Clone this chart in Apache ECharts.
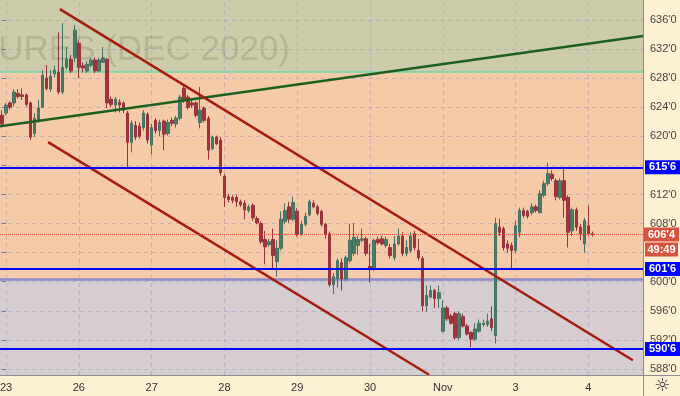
<!DOCTYPE html>
<html>
<head>
<meta charset="utf-8">
<script src="https://cdn.jsdelivr.net/npm/echarts@6/dist/echarts.min.js"></script>
<style>
html,body{margin:0;padding:0;background:#fdf1d3;}
#c{width:680px;height:396px;}
</style>
</head>
<body>
<div id="c"></div>
<script>
// ---- data ----
const dayLabels = ['23','26','27','28','29','30','Nov','3','4'];
const dayStarts = [1,19,37,55,73,91,109,127,145];
const barCount = 159;

const opens = [622.9,623.2,624.6,624.6,625.9,625.7,625.7,624.6,620.4,622.2,
624.0,628.0,626.5,628.6,628.8,626.1,629.5,630.6,630.8,632.8,
629.7,629.0,629.8,630.5,629.0,630.2,630.6,625.1,624.3,624.7,
624.6,623.2,619.2,621.5,621.4,621.2,623.0,618.8,622.2,620.8,
622.1,620.4,622.2,621.7,622.5,626.6,625.4,624.6,624.6,621.9,
623.9,622.5,618.3,619.9,619.5,614.5,611.7,611.6,611.6,611.0,
610.8,609.8,610.5,608.7,608.0,605.8,605.1,605.8,602.8,604.6,
608.3,610.3,608.6,609.7,606.6,607.9,609.2,610.8,610.3,609.7,
607.9,606.6,599.6,600.4,602.6,600.4,602.9,603.9,605.0,605.7,
605.9,602.1,601.8,605.8,605.9,605.0,604.7,603.3,605.2,606.3,
603.9,604.3,606.6,604.3,603.2,596.7,597.9,598.8,597.7,593.2,
596.4,595.3,595.6,592.3,595.2,593.9,593.0,592.1,593.2,594.1,
594.1,594.9,592.6,607.5,607.3,605.2,605.0,604.3,606.8,609.8,
609.7,609.5,610.3,609.5,611.9,613.5,614.8,613.9,611.6,613.9,
611.6,607.0,609.9,607.5,605.2,607.7,606.6];
const closes = [621.7,624.3,624.0,626.1,625.5,625.5,624.4,619.9,622.5,623.9,
628.4,626.6,628.3,629.1,626.1,629.5,630.6,629.0,634.6,629.5,
629.4,629.9,630.5,629.0,630.5,630.8,624.6,624.4,625.1,624.3,
623.6,619.2,621.8,619.9,620.0,623.2,619.5,621.2,620.8,621.9,
620.3,621.9,621.8,622.5,625.4,625.0,624.0,624.3,622.9,623.6,
622.2,618.1,619.9,619.0,615.0,611.6,611.3,611.2,611.0,610.6,
609.9,610.3,608.8,608.1,605.5,604.8,605.5,603.6,604.6,608.6,
609.8,608.6,610.9,606.5,607.9,609.0,611.0,610.3,609.4,607.9,
606.5,599.6,600.7,602.9,600.4,603.3,605.7,606.1,605.8,605.9,
603.9,601.8,605.7,605.4,605.2,605.8,603.6,605.2,606.3,603.9,
604.7,606.3,604.7,603.3,596.7,598.1,598.8,597.7,598.5,596.4,
594.9,594.3,592.3,595.6,593.9,592.8,592.1,593.5,594.3,594.3,
594.6,593.7,608.0,606.8,604.7,604.6,604.3,607.7,609.8,609.1,
609.0,610.3,609.8,612.1,613.5,614.9,614.2,611.7,613.9,611.2,
606.8,609.9,607.5,606.6,608.4,606.6,606.5];
const lows = [621.4,622.9,623.7,624.1,625.2,625.0,624.1,619.5,619.9,621.9,
623.9,626.3,626.1,628.1,625.8,625.8,629.2,628.7,630.2,628.0,
628.8,628.7,629.5,628.7,628.8,630.1,623.9,624.0,623.3,623.3,
623.2,615.7,617.8,619.5,619.7,620.8,619.0,617.5,620.4,620.0,
618.1,620.1,621.4,621.2,622.2,624.6,623.7,623.9,622.6,621.1,
621.9,616.8,618.1,618.8,614.6,610.3,610.9,610.8,610.3,610.3,
608.6,609.5,608.4,607.9,605.2,602.4,604.8,601.8,600.7,604.3,
607.9,608.1,608.3,606.2,606.3,607.6,609.0,610.1,609.1,607.6,
605.9,599.3,598.3,599.2,598.8,600.1,602.6,603.5,603.7,605.4,
603.5,599.9,601.5,605.1,605.0,604.7,603.2,602.9,605.0,603.5,
603.5,604.0,604.3,602.9,595.9,595.9,597.7,596.4,596.4,593.0,
594.6,594.1,592.0,592.0,593.7,592.6,591.0,591.9,593.0,593.8,
593.8,593.2,591.5,606.3,604.3,604.0,601.8,604.0,606.1,608.8,
608.7,609.2,609.5,609.4,611.6,613.2,613.9,611.2,611.3,608.8,
604.7,606.3,607.0,605.7,604.0,606.3,606.2];
const highs = [623.6,624.6,624.8,626.5,626.5,626.6,625.9,624.8,623.2,625.0,
629.1,629.8,629.1,629.7,634.3,635.6,632.3,631.2,635.3,633.2,
630.2,630.3,630.8,630.9,630.8,632.3,630.8,625.5,625.4,625.1,
624.8,623.5,622.2,622.1,621.9,623.6,623.3,621.7,622.5,622.3,
622.3,622.3,622.6,622.8,625.7,626.9,625.7,625.0,624.8,626.8,
624.1,622.8,620.1,620.1,619.9,614.8,612.1,611.9,612.0,611.3,
611.2,610.6,610.8,609.0,608.3,607.0,605.9,607.3,605.7,609.7,
610.8,611.0,611.7,610.1,608.4,609.5,611.3,611.2,610.6,609.9,
608.1,606.9,601.2,603.2,603.2,603.6,608.0,608.1,606.3,607.3,
606.2,605.2,605.9,606.2,606.3,606.2,605.2,606.3,607.3,606.8,
605.7,606.8,607.0,605.9,603.5,599.5,599.5,599.0,599.5,597.4,
596.7,595.6,595.9,595.9,595.6,594.2,593.2,594.3,594.8,594.8,
595.6,596.6,608.8,608.7,607.6,605.7,605.4,608.4,610.2,610.2,
609.9,610.8,610.6,612.6,613.9,616.4,615.3,614.2,614.2,615.6,
611.9,610.2,610.2,607.9,608.8,610.5,606.9];

const yMin = 587.17, yMax = 638.76;
const yTicks = [588,592,596,600,604,608,612,616,620,624,628,632,636];
const yLabelValues = [588,592,596,600,608,612,620,624,628,632,636];
const levelPrices = [615.75, 601.75, 590.75];
const lastPrice = 606.5;
const countdown = '49:49';
const zoneBounds = [600.28, 628.83];
const greenLine = [[-0.5, 621.4], [158.5, 633.8]];
const redUpper = [[14.3, 637.5], [156.0, 589.2]];
const redLower = [[11.4, 619.2], [105.6, 587.2]];
const watermark = 'SOYBEAN FUTURES (DEC 2020)';

// ---- build ----
const fmtPrice = v => { const w = Math.floor(v + 1e-9); return w + "'" + Math.round((v - w) * 8); };
const categories = [];
for (let i = 0; i < barCount; i++) categories.push(String(i));
const candleData = opens.map((o, i) => [o, closes[i], lows[i], highs[i]]);

const chart = echarts.init(document.getElementById('c'), null, {renderer: 'canvas'});
const option = {
  backgroundColor: '#fdf1d3',
  animation: false,
  textStyle: {fontFamily: 'Liberation Sans'},
  grid: {left: 0, right: 37, top: 0, bottom: 21, containLabel: false, outerBoundsMode: 'none'},
  xAxis: [
    {type: 'category', data: categories, boundaryGap: true,
     axisLine: {show: false},
     axisTick: {show: false},
     splitLine: {show: false},
     axisLabel: {interval: (i) => dayStarts.includes(i),
       formatter: (v, i) => { const k = dayStarts.indexOf(Number(v)); return k >= 0 ? dayLabels[k] : ''; },
       color: '#333', fontSize: 11, margin: 7}},
    {type: 'value', min: -0.5, max: barCount - 0.5, show: false}
  ],
  yAxis: {type: 'value', position: 'right', min: yMin, max: yMax,
    axisLine: {show: false},
    axisTick: {show: true, length: 4, lineStyle: {color: '#777'}, customValues: yTicks},
    axisLabel: {customValues: yLabelValues, formatter: v => fmtPrice(v), color: '#444', fontSize: 11, margin: 7},
    splitLine: {show: false}},
  series: [
    {type: 'line', name: 'zones', xAxisIndex: 1, data: [], silent: true, z: 0,
     markArea: {silent: true, z: 0, data: [
       [{yAxis: zoneBounds[1], itemStyle: {color: '#ccccaa'}}, {yAxis: yMax}],
       [{yAxis: zoneBounds[0], itemStyle: {color: '#f5caa9'}}, {yAxis: zoneBounds[1]}],
       [{yAxis: yMin, itemStyle: {color: '#d5cdd0'}}, {yAxis: zoneBounds[0]}]
     ]}},
    {type: 'line', name: 'grid', xAxisIndex: 1, data: [], silent: true, z: 1,
     markLine: {silent: true, z: 1, symbol: ['none', 'none'], label: {show: false},
       lineStyle: {type: [4, 4], color: 'rgba(130,130,190,0.35)', width: 1},
       data: [...dayStarts.map(v => ({xAxis: v})), ...yTicks.map(v => ({yAxis: v}))]}},
    {type: 'line', name: 'bounds', xAxisIndex: 1, data: [], silent: true, z: 2,
     markLine: {silent: true, z: 2, symbol: ['none', 'none'], label: {show: false},
       data: [
         {yAxis: zoneBounds[1], lineStyle: {color: '#6fd6a8', width: 1.5, type: 'solid'}},
         {yAxis: zoneBounds[0], lineStyle: {color: '#8c88cc', width: 2.5, type: 'solid'}}
       ]}},
    {type: 'candlestick', name: 'price', xAxisIndex: 0, data: candleData, barWidth: 3, z: 3,
     itemStyle: {color: '#4a7d68', color0: '#a2343a', borderColor: '#46705f', borderColor0: '#96323a', borderWidth: 1}},
    {type: 'line', name: 'up', xAxisIndex: 1, data: greenLine, symbol: 'none', z: 4,
     lineStyle: {color: '#1a5f1e', width: 2.5}},
    {type: 'line', name: 'downA', xAxisIndex: 1, data: redUpper, symbol: 'none', z: 4,
     lineStyle: {color: '#a51c0f', width: 2.5}},
    {type: 'line', name: 'downB', xAxisIndex: 1, data: redLower, symbol: 'none', z: 4,
     lineStyle: {color: '#a51c0f', width: 2.5}},
    {type: 'line', name: 'levels', xAxisIndex: 1, data: [], silent: true, z: 5, clip: false,
     markLine: {silent: true, z: 6, symbol: ['none', 'none'],
       data: [
         ...levelPrices.map(v => ({yAxis: v,
           lineStyle: {color: '#0000ff', width: 2, type: 'solid'},
           label: {show: true, position: 'end', distance: 2, formatter: fmtPrice(v),
             backgroundColor: '#0000ff', color: '#fff', fontWeight: 'bold', fontSize: 11, padding: [2, 4, 1, 4]}})),
         {yAxis: lastPrice,
           lineStyle: {color: '#e0503c', width: 1, type: 'dotted'},
           label: {show: true, position: 'end', distance: 1, formatter: fmtPrice(lastPrice),
             backgroundColor: '#d6533f', color: '#fff', fontWeight: 'bold', fontSize: 11, padding: [2, 4, 1, 4]}}
       ]}}
  ]
};
chart.setOption(option);

const py = chart.convertToPixel({yAxisIndex: 0}, lastPrice);
chart.setOption({
  graphic: [
    {type: 'text', z: 1, silent: true, x: 290, y: 68,
     style: {text: watermark, font: '35px "Liberation Sans"', fill: 'rgba(90,90,70,0.2)', align: 'right', verticalAlign: 'bottom'}},
    {type: 'rect', z: 10, silent: true, shape: {x: 645, y: py + 8, width: 33, height: 14},
     style: {fill: '#d6533f'}},
    {type: 'text', z: 11, silent: true, x: 661.5, y: py + 15,
     style: {text: countdown, font: 'bold 11px "Liberation Sans"', fill: '#fff', align: 'center', verticalAlign: 'middle'}},
    {type: 'line', z: 10, silent: true, shape: {x1: 0, y1: 375.5, x2: 680, y2: 375.5}, style: {stroke: '#8c8c8c', lineWidth: 1}},
    {type: 'line', z: 10, silent: true, shape: {x1: 643.5, y1: 0, x2: 643.5, y2: 396}, style: {stroke: '#8c8c8c', lineWidth: 1}},
    {type: 'text', z: 10, silent: true, x: 662, y: 386,
     style: {text: '☼', font: '18px "DejaVu Sans"', fill: '#333', align: 'center', verticalAlign: 'middle'}}
  ]
});
</script>
</body>
</html>
